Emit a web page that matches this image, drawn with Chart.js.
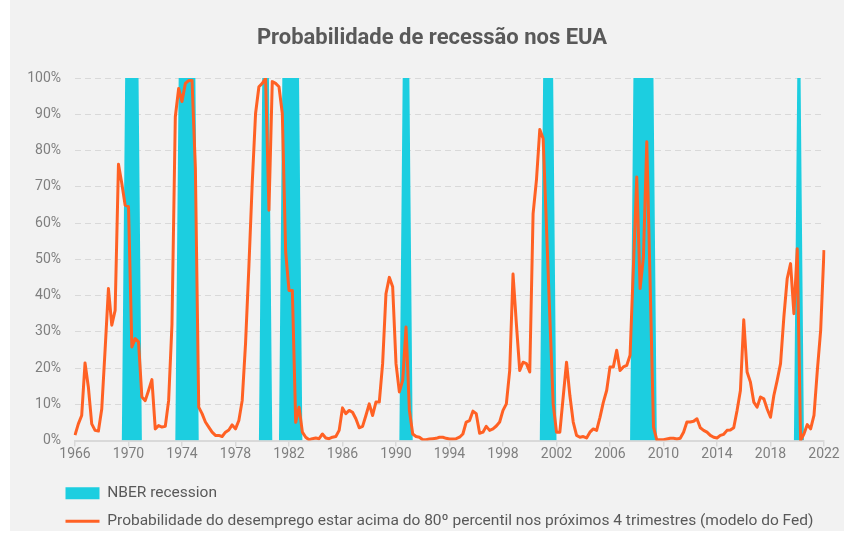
<!DOCTYPE html>
<html>
<head>
<meta charset="utf-8">
<script src="https://cdn.jsdelivr.net/npm/chart.js@4.4.1/dist/chart.umd.min.js"></script>
<style>
  html, body { margin: 0; padding: 0; background: #ffffff; overflow: hidden; }
  .box { position: absolute; left: 10px; top: 0; width: 834px; height: 531px; background: #f2f2f2; }
</style>
</head>
<body>
<div class="box"><canvas id="recessionChart"></canvas></div>
<script>
// quarterly data, 1966 T1 .. 2022 T1
var firstYear = 1966;

var probability = [
  1.5, 4.6, 6.9, 21.4, 14.7, 4.6, 2.8, 2.6, 8.7, 25,
  41.9, 31.8, 35.9, 76.2, 70.9, 64.9, 64.5, 25.8, 28.1, 27.2,
  12, 11, 13.8, 16.8, 3.2, 4.1, 3.7, 3.9, 11, 32,
  89.3, 97.1, 93.5, 98.5, 99.3, 99.3, 75, 9.2, 7.4, 5.1,
  3.7, 2.3, 1.4, 1.4, 1.1, 2.3, 2.9, 4.3, 3.2, 5.5,
  11, 26.7, 47.9, 70.9, 90.2, 97.6, 98.5, 99.9, 63.5, 99,
  98.5, 97.6, 90.2, 52, 41.4, 41.4, 5, 9.2, 2.3, 0.9,
  0.2, 0.5, 0.7, 0.5, 1.8, 0.7, 0.5, 0.9, 1.1, 2.8,
  9, 7.4, 8.3, 7.8, 6, 3.5, 3.9, 6.9, 10.1, 6.9,
  10.6, 10.6, 21.2, 40.5, 45, 42.4, 21.2, 13.4, 16.6, 31.3,
  8.3, 1.8, 1.1, 0.9, 0.2, 0.2, 0.4, 0.5, 0.6, 0.9,
  0.9, 0.6, 0.4, 0.4, 0.5, 0.9, 1.8, 5.1, 5.5, 8.1,
  7.4, 2, 2.3, 3.9, 2.8, 3.2, 4, 5.1, 8.3, 10.1,
  19.3, 45.9, 32.2, 19.3, 21.6, 21.2, 18.9, 62.6, 71.8, 85.8,
  83.3, 58.9, 34.1, 10.1, 2.3, 2.3, 12, 21.6, 12.4, 5.1,
  1.4, 0.9, 1.1, 0.7, 2.3, 3.2, 2.8, 6.4, 10.5, 13.8,
  20.3, 20.3, 24.9, 19.3, 20.3, 20.7, 23.5, 47.9, 72.7, 41.9,
  50.6, 82.4, 43.3, 3.7, 0.2, 0.2, 0.2, 0.4, 0.6, 0.6,
  0.4, 0.6, 2.3, 5.1, 5.1, 5.3, 6, 3.5, 2.8, 2.3,
  1.4, 0.9, 0.7, 1.4, 1.7, 2.8, 2.9, 3.5, 8.3, 13.8,
  33.3, 18.9, 16.1, 10.6, 9.2, 12, 11.5, 8.7, 6.4, 12.4,
  16.6, 21.2, 34.1, 44.7, 48.8, 35, 52.9, 0, 1.8, 4.4,
  3.2, 6.9, 19.3, 30.4, 52.5
];

// NBER recessions (first and last quarter)
var recessions = [
  ["1969 T4", "1970 T4"],
  ["1973 T4", "1975 T1"],
  ["1980 T1", "1980 T3"],
  ["1981 T3", "1982 T4"],
  ["1990 T3", "1991 T1"],
  ["2001 T1", "2001 T4"],
  ["2007 T4", "2009 T2"],
  ["2020 T1", "2020 T2"]
];

var tickYears = [1966, 1970, 1974, 1978, 1982, 1986, 1990, 1994, 1998, 2002, 2006, 2010, 2014, 2018, 2022];

var quarters = probability.map((v, i) => (firstYear + Math.floor(i / 4)) + " T" + (i % 4 + 1));

var recessionValues = quarters.map((q, i) => {
  var inside = recessions.some(r => i >= quarters.indexOf(r[0]) && i <= quarters.indexOf(r[1]));
  return inside ? 100 : 0;
});

var font = "Roboto";

// move legend and title sideways to where they sit in the original
var shiftBlocks = {
  id: "shiftBlocks",
  afterLayout(chart) {
    chart.legend.left += 43;
    chart.legend.right += 43;
    chart.titleBlock.left += 15;
    chart.titleBlock.right += 15;
  }
};

var chart = new Chart(document.getElementById("recessionChart"), {
  type: "line",
  data: {
    labels: quarters,
    datasets: [{
      label: "NBER recession",
      data: recessionValues,
      fill: "origin",
      backgroundColor: "#1ccee0",
      borderWidth: 0,
      pointRadius: 0,
      pointStyle: "rect",
      order: 1
    }, {
      label: "Probabilidade do desemprego estar acima do 80º percentil nos próximos 4 trimestres (modelo do Fed)",
      data: probability,
      fill: false,
      borderColor: "#ff6124",
      backgroundColor: "#ff6124",
      borderWidth: 3,
      borderJoinStyle: "round",
      pointRadius: 0,
      pointStyle: "line",
      order: 0
    }]
  },
  options: {
    responsive: true,
    maintainAspectRatio: false,
    animation: false,
    layout: { padding: { left: 0, right: 20, top: 0, bottom: 0 } },
    plugins: {
      title: {
        display: true,
        text: "Probabilidade de recessão nos EUA",
        color: "#595959",
        font: { family: font, size: 22, weight: "bold" },
        padding: { top: 25, bottom: 26.6 }
      },
      legend: {
        position: "bottom",
        align: "start",
        maxHeight: 58,
        labels: {
          color: "#595959",
          font: { family: font, size: 15.5 },
          usePointStyle: true,
          pointStyleWidth: 34,
          boxHeight: 12,
          padding: 12.5,
          sort: (a, b) => a.datasetIndex - b.datasetIndex
        }
      },
      tooltip: { enabled: false }
    },
    scales: {
      x: {
        grid: { drawOnChartArea: false, drawTicks: true, tickLength: 6, color: "#d9d9d9", lineWidth: 1.5 },
        border: { display: true, color: "#d9d9d9", width: 2 },
        ticks: {
          autoSkip: false,
          maxRotation: 0,
          minRotation: 0,
          padding: 0,
          color: "#7f7f7f",
          font: { family: font, size: 14 },
          callback: function (val, idx) {
            var label = quarters[idx];
            var year = parseInt(label);
            return label.endsWith("T1") && tickYears.includes(year) ? String(year) : null;
          }
        },
        afterFit: function (scale) { scale.height = 32.5; }
      },
      y: {
        min: 0,
        max: 100,
        grid: { drawTicks: false, color: "#d9d9d9", lineWidth: 1 },
        border: { display: false, dash: [6, 4] },
        ticks: {
          stepSize: 10,
          padding: 14,
          color: "#7f7f7f",
          font: { family: font, size: 14 },
          callback: v => v + "%"
        },
        afterFit: function (scale) { scale.width = 65; }
      }
    }
  },
  plugins: [shiftBlocks]
});
</script>
</body>
</html>
